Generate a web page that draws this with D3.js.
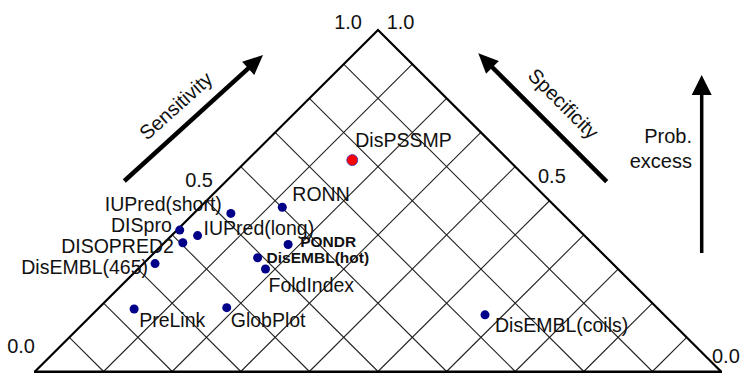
<!DOCTYPE html>
<html>
<head>
<meta charset="utf-8">
<script src="https://cdn.jsdelivr.net/npm/d3@7"></script>
<style>
  body { margin: 0; background: #fff; }
  svg { display: block; font-family: Arial, "Liberation Sans", sans-serif; }
</style>
</head>
<body>
<div id="chart"></div>
<script>
// predictors, sensitivity and specificity
var predictors  = ["DisPSSMP", "IUPred(short)", "RONN", "DISpro", "IUPred(long)", "DISOPRED2",
                   "PONDR", "DisEMBL(hot)", "FoldIndex", "DisEMBL(465)", "PreLink", "GlobPlot", "DisEMBL(coils)"];
var sensitivity = [0.772, 0.517, 0.601, 0.418, 0.436, 0.404, 0.555, 0.491, 0.486, 0.333, 0.236, 0.373, 0.739];
var specificity = [0.847, 0.946, 0.880, 0.996, 0.962, 0.973, 0.817, 0.842, 0.814, 0.983, 0.947, 0.814, 0.427];
var tickValues  = [0.0, 0.5, 1.0];
var tickLabels  = ["0.0", "0.5", "1.0"];

// label placement next to each dot (dx, dy, anchor, bold)
var labelLayout = {
    "DisPSSMP":       [3, -13, "start", false],
    "IUPred(short)":  [-9, -2.5, "end", false],
    "RONN":           [10, -6, "start", false],
    "DISpro":         [-8, 1.5, "end", false],
    "IUPred(long)":   [6, -1, "start", false],
    "DISOPRED2":      [-9, 10.5, "end", false],
    "PONDR":          [12, 3, "start", true],
    "DisEMBL(hot)":   [9, 5, "start", true],
    "FoldIndex":      [3, 23, "start", false],
    "DisEMBL(465)":   [-7, 10, "end", false],
    "PreLink":        [5, 18, "start", false],
    "GlobPlot":       [4, 19, "start", false],
    "DisEMBL(coils)": [10, 17, "start", false]
};
var leftTickOffset  = [[0, -18.5], [6.5, -14], [-16, -1.5]];
var rightTickOffset = [[-9, -8.5], [-11.5, -17.8], [8.7, -1.5]];

var width = 741, height = 373;

var svg = d3.select("#chart").append("svg")
    .attr("width", width)
    .attr("height", height);

// the triangle is a rotated ROC square: x follows sens-spec, y follows sens+spec
var xScale = d3.scaleLinear().domain([-1, 1]).range([35, 721]);
var yScale = d3.scaleLinear().domain([1, 2]).range([371.5, 30]);

function px(sens, spec) { return xScale(sens - spec); }
function py(sens, spec) { return yScale(sens + spec); }

var grid = svg.append("g");
var steps = d3.range(1, 10).map(function(i) { return i / 10; });

// lines of constant sensitivity (parallel to the right edge)
grid.selectAll(".sens-line")
    .data(steps).enter()
    .append("line")
    .attr("class", "sens-line")
    .attr("x1", function(s) { return px(s, 1); })
    .attr("y1", function(s) { return py(s, 1); })
    .attr("x2", function(s) { return px(s, 1 - s); })
    .attr("y2", function(s) { return py(s, 1 - s); })
    .attr("stroke", "#222")
    .attr("stroke-width", 1.1);

// lines of constant specificity (parallel to the left edge)
grid.selectAll(".spec-line")
    .data(steps).enter()
    .append("line")
    .attr("class", "spec-line")
    .attr("x1", function(p) { return px(1, p); })
    .attr("y1", function(p) { return py(1, p); })
    .attr("x2", function(p) { return px(1 - p, p); })
    .attr("y2", function(p) { return py(1 - p, p); })
    .attr("stroke", "#222")
    .attr("stroke-width", 1.1);

// triangle edges
svg.append("path")
    .attr("d", "M" + px(0, 1) + "," + py(0, 1) + "L" + px(1, 1) + "," + py(1, 1) + "L" + px(1, 0) + "," + py(1, 0))
    .attr("fill", "none")
    .attr("stroke", "#000")
    .attr("stroke-width", 2.2)
    .attr("stroke-linejoin", "miter");

svg.append("line")
    .attr("x1", px(0, 1) - 1).attr("y1", py(0, 1) + 0.5)
    .attr("x2", px(1, 0) + 1).attr("y2", py(1, 0) + 0.5)
    .attr("stroke", "#000")
    .attr("stroke-width", 3);

// tick labels on both sides
var ticks = svg.append("g")
    .attr("font-size", "20px")
    .attr("fill", "#111");

ticks.selectAll(".tick-left")
    .data(tickValues).enter()
    .append("text")
    .attr("class", "tick-left")
    .attr("x", function(v, i) { return px(v, 1) + leftTickOffset[i][0]; })
    .attr("y", function(v, i) { return py(v, 1) + leftTickOffset[i][1]; })
    .attr("text-anchor", "end")
    .text(function(v, i) { return tickLabels[i]; });

ticks.selectAll(".tick-right")
    .data(tickValues).enter()
    .append("text")
    .attr("class", "tick-right")
    .attr("x", function(v, i) { return px(1, v) + rightTickOffset[i][0]; })
    .attr("y", function(v, i) { return py(1, v) + rightTickOffset[i][1]; })
    .attr("text-anchor", "start")
    .text(function(v, i) { return tickLabels[i]; });

// arrows
function drawArrow(layer, x1, y1, x2, y2, lineWidth, headLen, headWidth) {
    var dx = x2 - x1, dy = y2 - y1;
    var len = Math.sqrt(dx * dx + dy * dy);
    var ux = dx / len, uy = dy / len;
    var bx = x2 - ux * headLen, by = y2 - uy * headLen;
    layer.append("line")
        .attr("x1", x1).attr("y1", y1)
        .attr("x2", bx + ux * 2).attr("y2", by + uy * 2)
        .attr("stroke", "#000")
        .attr("stroke-width", lineWidth);
    layer.append("path")
        .attr("d", "M" + x2 + "," + y2 +
                   "L" + (bx - uy * headWidth / 2) + "," + (by + ux * headWidth / 2) +
                   "L" + (bx + uy * headWidth / 2) + "," + (by - ux * headWidth / 2) + "Z")
        .attr("fill", "#000");
}

var arrows = svg.append("g");
drawArrow(arrows, 124.3, 181, 263, 55, 4.5, 20, 18);
drawArrow(arrows, 606.7, 181.7, 478.3, 53.3, 4.5, 20, 18);
drawArrow(arrows, 701.7, 253, 701.7, 75, 3.5, 20, 20);

var titles = svg.append("g")
    .attr("font-size", "20px")
    .attr("fill", "#111");

titles.append("text")
    .attr("text-anchor", "middle")
    .attr("transform", "translate(180.5,111) rotate(-42)")
    .text("Sensitivity");

titles.append("text")
    .attr("text-anchor", "middle")
    .attr("transform", "translate(558.5,108.5) rotate(45)")
    .text("Specificity");

titles.append("text")
    .attr("x", 692).attr("y", 143)
    .attr("text-anchor", "end")
    .text("Prob.");

titles.append("text")
    .attr("x", 692).attr("y", 168)
    .attr("text-anchor", "end")
    .text("excess");

// predictor points and names
var points = predictors.map(function(name, i) {
    return { name: name, sens: sensitivity[i], spec: specificity[i] };
});

var labels = svg.append("g").attr("fill", "#111");

labels.selectAll("text")
    .data(points).enter()
    .append("text")
    .attr("x", function(d) { return px(d.sens, d.spec) + labelLayout[d.name][0]; })
    .attr("y", function(d) { return py(d.sens, d.spec) + labelLayout[d.name][1]; })
    .attr("text-anchor", function(d) { return labelLayout[d.name][2]; })
    .attr("font-size", function(d) { return labelLayout[d.name][3] ? "15.5px" : "19.5px"; })
    .attr("font-weight", function(d) { return labelLayout[d.name][3] ? "bold" : "normal"; })
    .text(function(d) { return d.name; });

svg.append("g").selectAll("circle")
    .data(points).enter()
    .append("circle")
    .attr("cx", function(d) { return px(d.sens, d.spec); })
    .attr("cy", function(d) { return py(d.sens, d.spec); })
    .attr("r", function(d) { return d.name === "DisPSSMP" ? 5.5 : 4.5; })
    .attr("fill", function(d) { return d.name === "DisPSSMP" ? "#ff0000" : "#000088"; })
    .attr("stroke", function(d) { return d.name === "DisPSSMP" ? "#3333cc" : "none"; })
    .attr("stroke-width", 0.8);
</script>
</body>
</html>
